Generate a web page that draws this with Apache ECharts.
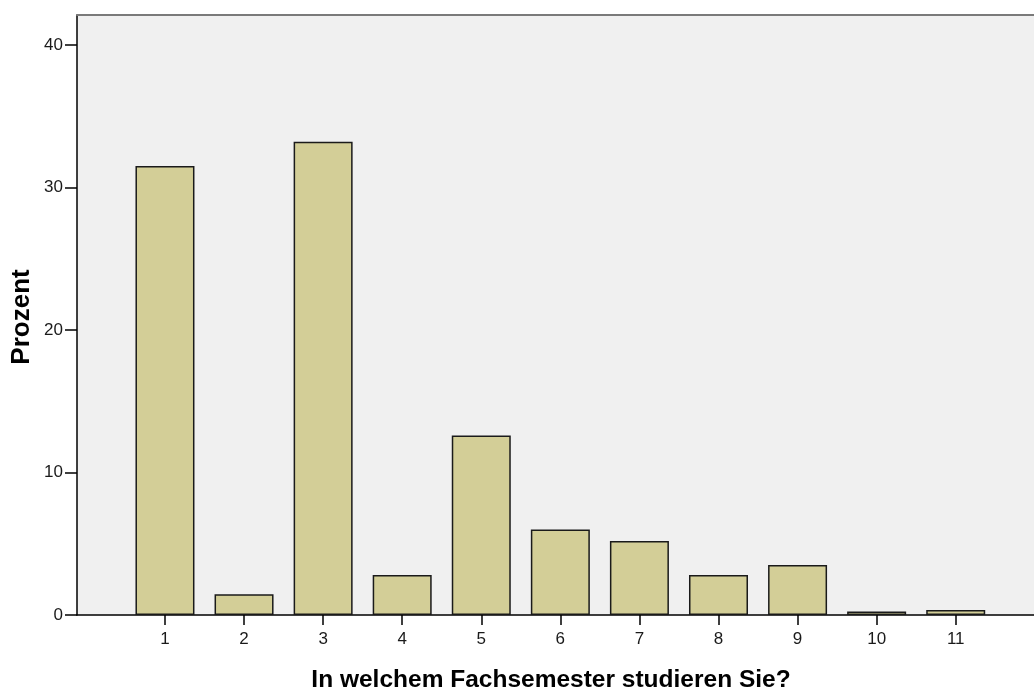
<!DOCTYPE html>
<html><head><meta charset="utf-8">
<script src="https://cdn.jsdelivr.net/npm/echarts@6/dist/echarts.min.js"></script>
<style>html,body{margin:0;padding:0;background:#fff}#c{width:1034px;height:693px}</style>
</head><body><div id="c"></div>
<script>
const semesters = [1, 2, 3, 4, 5, 6, 7, 8, 9, 10, 11];
const prozent = [31.5, 1.45, 33.2, 2.8, 12.6, 6.0, 5.2, 2.8, 3.5, 0.25, 0.35];
const yTicks = [0, 10, 20, 30, 40];
const xTitle = 'In welchem Fachsemester studieren Sie?';
const yTitle = 'Prozent';

const chart = echarts.init(document.getElementById('c'), null, {renderer: 'canvas'});
const font = 'Liberation Sans, Arial, sans-serif';
chart.setOption({
  animation: false,
  grid: {left: 77, right: 0, top: 15, bottom: 78, show: true, backgroundColor: '#f0f0f0', borderWidth: 0},
  xAxis: [{
    type: 'value', min: -0.1125, max: 11.99, position: 'bottom',
    splitLine: {show: false},
    axisLine: {show: true, onZero: false, lineStyle: {color: '#000', width: 1.5}},
    axisTick: {show: true, length: 10, customValues: semesters, lineStyle: {color: '#000', width: 1.5}},
    axisLabel: {customValues: semesters, color: '#1a1a1a', fontSize: 17, fontFamily: font, margin: 16}
  }, {
    type: 'value', min: -0.1125, max: 11.99, position: 'top',
    splitLine: {show: false},
    axisLine: {show: true, onZero: false, lineStyle: {color: '#7a7a7a', width: 2}},
    axisTick: {show: false}, axisLabel: {show: false}
  }],
  yAxis: {
    type: 'value', min: 0, max: 42.1, interval: 10,
    splitLine: {show: false},
    axisLine: {show: true, onZero: false, lineStyle: {color: '#000', width: 1.5}},
    axisTick: {show: true, length: 12, customValues: yTicks, lineStyle: {color: '#000', width: 1.5}},
    axisLabel: {customValues: yTicks, color: '#1a1a1a', fontSize: 17, fontFamily: font, margin: 14}
  },
  graphic: [
    {type: 'text', x: 551, y: 680, style: {text: xTitle, font: 'bold 24.5px ' + font, fill: '#000', align: 'center', verticalAlign: 'middle'}},
    {type: 'text', x: 22, y: 317, rotation: Math.PI / 2,
      style: {text: yTitle, font: 'bold 26px ' + font, fill: '#000', align: 'center', verticalAlign: 'middle'}}
  ],
  series: [{
    type: 'bar', xAxisIndex: 0, barWidth: 59,
    data: semesters.map((s, i) => [s, prozent[i]]),
    itemStyle: {color: '#d3ce97', borderColor: '#1a1a1a', borderWidth: 1.5}
  }]
});
</script></body></html>
